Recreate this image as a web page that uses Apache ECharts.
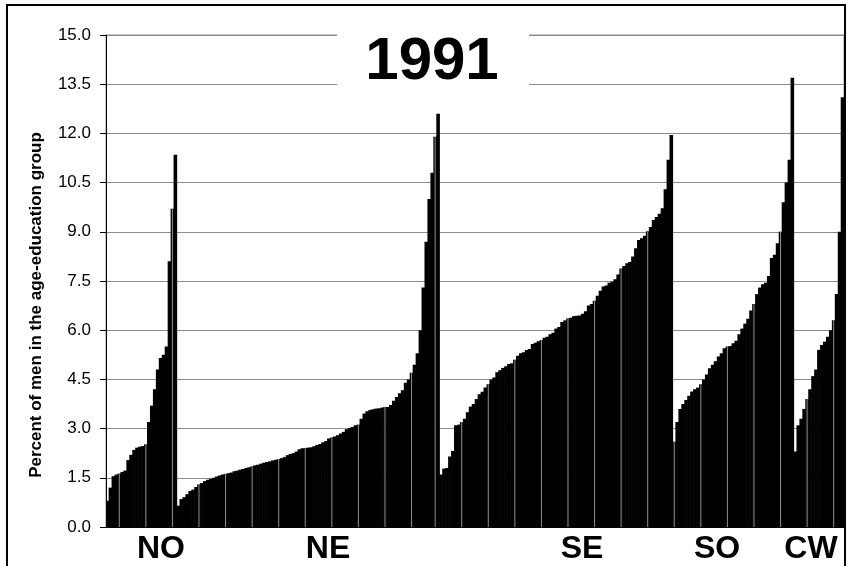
<!DOCTYPE html>
<html>
<head>
<meta charset="utf-8">
<script src="https://cdn.jsdelivr.net/npm/echarts@6/dist/echarts.min.js"></script>
<style>
  html, body { margin: 0; padding: 0; background: #fff; }
  #chart { width: 848px; height: 566px; }
</style>
</head>
<body>
<div id="chart"></div>
<script>
// Share of men in each age-education group, 1991, sorted within region.
const regionNames = ['NO', 'NE', 'SE', 'SO', 'CW'];

const NO = [0.8, 1.2, 1.55, 1.6, 1.63, 1.68, 1.72, 2.04, 2.2, 2.35, 2.42, 2.45, 2.47, 2.52,
  3.2, 3.7, 4.2, 4.8, 5.15, 5.25, 5.5, 8.1, 9.7, 11.35];

const NE = [0.65, 0.85, 0.91, 1.0, 1.1, 1.14, 1.22, 1.3, 1.34, 1.4,
  1.44, 1.47, 1.5, 1.54, 1.57, 1.6, 1.62, 1.64, 1.66, 1.7,
  1.72, 1.75, 1.77, 1.8, 1.82, 1.85, 1.88, 1.9, 1.93, 1.96,
  1.98, 2.0, 2.03, 2.05, 2.07, 2.1, 2.13, 2.19, 2.23, 2.25,
  2.3, 2.37, 2.4, 2.41, 2.42, 2.43, 2.46, 2.5, 2.53, 2.58,
  2.62, 2.7, 2.73, 2.76, 2.8, 2.85, 2.9, 2.98, 3.02, 3.05,
  3.1, 3.12, 3.3, 3.46, 3.53, 3.57, 3.59, 3.61, 3.62, 3.64,
  3.66, 3.66, 3.72, 3.85, 3.96, 4.08, 4.17, 4.4, 4.5, 4.7,
  4.95, 5.3, 6.0, 7.3, 8.7, 10.0, 10.8, 11.9, 12.6];

const SE = [1.6, 1.78, 1.8, 2.15, 2.32, 3.1, 3.12, 3.2, 3.3, 3.5,
  3.67, 3.75, 3.9, 4.05, 4.12, 4.25, 4.35, 4.5, 4.56, 4.72,
  4.78, 4.85, 4.9, 4.97, 4.99, 5.1, 5.22, 5.3, 5.33, 5.4,
  5.43, 5.58, 5.62, 5.66, 5.7, 5.77, 5.8, 5.88, 5.92, 6.05,
  6.1, 6.25, 6.3, 6.36, 6.38, 6.43, 6.44, 6.45, 6.5, 6.58,
  6.75, 6.8, 6.9, 7.05, 7.2, 7.33, 7.36, 7.45, 7.48, 7.55,
  7.7, 7.88, 7.96, 8.04, 8.08, 8.25, 8.5, 8.75, 8.8, 8.88,
  9.02, 9.15, 9.36, 9.45, 9.55, 9.72, 10.3, 11.2, 11.95];

const SO = [2.6, 3.2, 3.6, 3.75, 3.87, 4.0, 4.13, 4.2, 4.25, 4.35,
  4.5, 4.65, 4.84, 4.95, 5.05, 5.2, 5.3, 5.45, 5.5, 5.52,
  5.6, 5.68, 5.88, 6.05, 6.2, 6.35, 6.6, 6.8, 7.1, 7.3,
  7.4, 7.45, 7.65, 8.2, 8.3, 8.65, 9.0, 9.9, 10.5, 11.2,
  13.7];

const CW = [2.3, 3.1, 3.3, 3.6, 3.9, 4.2, 4.6, 4.8, 5.4, 5.55, 5.65, 5.8, 6.0, 6.3, 7.1, 9.0, 13.1];

// Value axis ticks
const yMin = 0, yMax = 15, yStep = 1.5;

const yearTitle = '1991';
const yTitle = 'Percent of men in the age-education group';

// Flatten regions into one run of bars
const groups = [NO, NE, SE, SO, CW];
const values = [];
const categories = [];
groups.forEach((g, r) => g.forEach((v, j) => {
  values.push(v);
  categories.push(regionNames[r] + '-' + (j + 1));
}));

// Thin light seams through the solid black fill, roughly every nine bars
const seamSet = new Set();
for (let k = 0; ; k++) {
  const idx = Math.round(4.14 + 8.946 * k);
  if (idx >= values.length) break;
  seamSet.add(idx);
}
const seams = values.map((v, i) => (seamSet.has(i) ? v : '-'));

const FONT = "'Liberation Sans', Arial, sans-serif";

const chart = echarts.init(document.getElementById('chart'), null, { renderer: 'canvas' });
chart.setOption({
  animation: false,
  backgroundColor: '#fff',
  grid: {
    left: 106, right: 4, top: 35, bottom: 39,
    show: true, borderColor: '#8c8c8c', borderWidth: 1, backgroundColor: 'transparent'
  },
  xAxis: [
    {
      type: 'category', data: categories,
      axisLine: { show: true, lineStyle: { color: '#000', width: 1 } },
      axisTick: { show: false }, axisLabel: { show: false }, splitLine: { show: false }
    },
    { type: 'category', data: categories, show: false }
  ],
  yAxis: {
    type: 'value', min: yMin, max: yMax, interval: yStep,
    axisLine: { show: true, lineStyle: { color: '#000', width: 1 } },
    axisTick: { show: true, length: 6, lineStyle: { color: '#000' } },
    axisLabel: {
      formatter: v => v.toFixed(1), color: '#000', fontSize: 17, fontFamily: FONT, margin: 15
    },
    splitLine: { show: true, lineStyle: { color: '#8c8c8c', width: 1 } }
  },
  series: [
    {
      // slightly wider than the band so neighbouring bars fuse into one solid fill
      type: 'bar', data: values, barWidth: 3.6,
      itemStyle: { color: '#000' },
      silent: true, z: 2
    },
    {
      type: 'bar', xAxisIndex: 1, data: seams, barWidth: 1,
      itemStyle: { color: '#909090' }, silent: true, z: 3
    }
  ],
  graphic: [
    {
      type: 'rect', silent: true, z: 100,
      shape: { x: 7, y: 5, width: 838, height: 600 },
      style: { fill: 'none', stroke: '#000', lineWidth: 2 }
    },
    {
      type: 'rect', silent: true, z: 101,
      shape: { x: 337, y: 28, width: 192, height: 62 },
      style: { fill: '#fff' }
    },
    {
      type: 'text', silent: true, z: 102, x: 432, y: 62,
      style: { text: yearTitle, fill: '#000', fontSize: 60, fontWeight: 'bold', fontFamily: FONT,
               align: 'center', verticalAlign: 'middle' }
    },
    {
      type: 'text', silent: true, z: 102, x: 36, y: 305, rotation: Math.PI / 2,
      style: { text: yTitle, fill: '#000', fontSize: 17, fontWeight: 'bold', fontFamily: FONT,
               align: 'center', verticalAlign: 'middle' }
    },
    ...[161, 328, 582, 717, 811].map((cx, r) => ({
      type: 'text', silent: true, z: 102, x: cx, y: 549,
      style: { text: regionNames[r], fill: '#000', fontSize: 32, fontWeight: 'bold', fontFamily: FONT,
               align: 'center', verticalAlign: 'middle' }
    }))
  ]
});
</script>
</body>
</html>
